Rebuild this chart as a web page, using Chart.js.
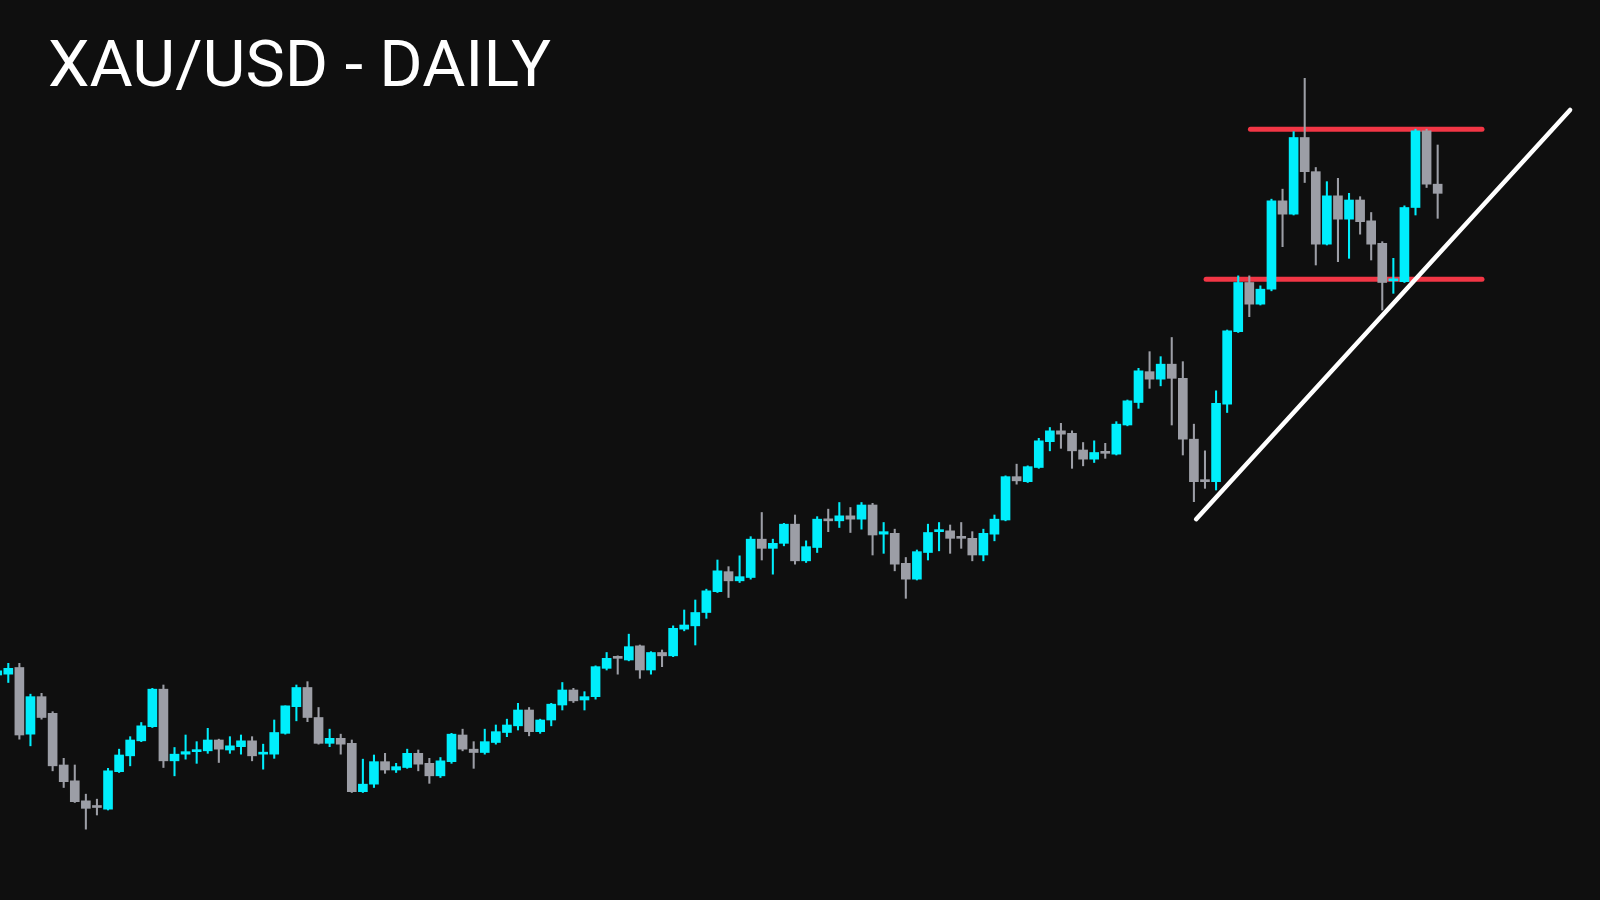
<!DOCTYPE html>
<html>
<head>
<meta charset="utf-8">
<title>XAU/USD - DAILY</title>
<script src="https://cdn.jsdelivr.net/npm/chart.js@4.4.1/dist/chart.umd.min.js"></script>
<style>
    html, body { margin: 0; padding: 0; background: #0f0f0f; }
    #wrap { position: relative; width: 1600px; height: 900px; overflow: hidden; }
    #title {
        position: absolute; left: 48px; top: 32px;
        font-family: Roboto, "Open Sans", sans-serif; font-size: 65px; line-height: 65px;
        font-weight: 400; color: #ffffff; white-space: nowrap;
        transform-origin: 0 0;
    }
    canvas { position: absolute; left: 0; top: 0; }
</style>
</head>
<body>
<div id="wrap">
    <canvas id="chart" width="1600" height="900"></canvas>
    <div id="title">XAU/USD - DAILY</div>
</div>
<script>
// daily candles, oldest first (x = bar index)
const opens = [
    2790, 2791, 2799, 2719, 2764, 2744, 2682, 2663, 2639, 2632,
    2629, 2674, 2693, 2711, 2728, 2773, 2687, 2695, 2698, 2699,
    2712, 2700, 2704, 2711, 2695, 2695, 2720, 2752, 2775, 2739,
    2708, 2714, 2708, 2650, 2659, 2686, 2676, 2679, 2696, 2684,
    2669, 2686, 2718, 2701, 2697, 2709, 2721, 2729, 2748, 2722,
    2736, 2754, 2772, 2760, 2764, 2798, 2812, 2808, 2825, 2796,
    2817, 2813, 2845, 2849, 2865, 2890, 2914, 2903, 2907, 2953,
    2942, 2948, 2971, 2927, 2943, 2977, 2975, 2981, 2977, 2994,
    2959, 2960, 2924, 2905, 2937, 2962, 2963, 2956, 2954, 2934,
    2959, 2976, 3028, 3022, 3039, 3070, 3083, 3080, 3060, 3049,
    3058, 3055, 3090, 3117, 3154, 3145, 3163, 3146, 3073, 3024,
    3022, 3115, 3202, 3261, 3235, 3253, 3359, 3343, 3435, 3394,
    3307, 3365, 3337, 3360, 3335, 3308, 3263, 3262, 3351, 3443,
    3379
];
const highs = [
    2798, 2804, 2804, 2767, 2768, 2746, 2690, 2682, 2647, 2641,
    2678, 2701, 2716, 2733, 2774, 2778, 2703, 2718, 2710, 2726,
    2713, 2716, 2718, 2716, 2707, 2736, 2753, 2778, 2782, 2751,
    2725, 2719, 2712, 2689, 2694, 2696, 2684, 2701, 2700, 2690,
    2691, 2720, 2725, 2710, 2725, 2730, 2737, 2756, 2751, 2737,
    2756, 2781, 2774, 2770, 2801, 2817, 2813, 2839, 2826, 2818,
    2820, 2849, 2868, 2880, 2893, 2928, 2920, 2933, 2956, 2985,
    2953, 2972, 2982, 2951, 2980, 2989, 2997, 2991, 2997, 2996,
    2973, 2965, 2931, 2940, 2971, 2973, 2970, 2973, 2962, 2965,
    2982, 3029, 3043, 3041, 3074, 3087, 3092, 3083, 3069, 3071,
    3068, 3094, 3120, 3158, 3178, 3172, 3195, 3166, 3091, 3059,
    3131, 3204, 3269, 3269, 3257, 3361, 3373, 3442, 3506, 3399,
    3382, 3386, 3368, 3364, 3345, 3310, 3290, 3353, 3445, 3445,
    3426
];
const lows = [
    2788, 2781, 2713, 2705, 2737, 2675, 2655, 2637, 2605, 2622,
    2628, 2673, 2681, 2710, 2727, 2679, 2669, 2689, 2684, 2696,
    2685, 2696, 2695, 2687, 2677, 2690, 2719, 2735, 2734, 2707,
    2704, 2695, 2649, 2649, 2655, 2672, 2673, 2678, 2675, 2660,
    2667, 2684, 2699, 2678, 2695, 2707, 2716, 2724, 2717, 2720,
    2729, 2748, 2757, 2748, 2761, 2796, 2791, 2807, 2786, 2791,
    2800, 2812, 2843, 2826, 2858, 2889, 2883, 2901, 2905, 2928,
    2911, 2945, 2923, 2925, 2937, 2962, 2967, 2961, 2965, 2934,
    2936, 2915, 2882, 2904, 2928, 2939, 2936, 2942, 2927, 2927,
    2951, 2975, 3019, 3021, 3038, 3059, 3062, 3038, 3041, 3045,
    3050, 3054, 3089, 3110, 3134, 3137, 3090, 3054, 2998, 3014,
    3012, 3105, 3201, 3220, 3234, 3251, 3304, 3342, 3381, 3282,
    3306, 3286, 3290, 3319, 3288, 3228, 3248, 3261, 3342, 3375,
    3338
];
const closes = [
    2795, 2798, 2718, 2764, 2739, 2681, 2662, 2638, 2630, 2631,
    2675, 2694, 2712, 2729, 2773, 2687, 2695, 2698, 2700, 2712,
    2701, 2705, 2711, 2693, 2697, 2721, 2753, 2775, 2739, 2708,
    2714, 2707, 2650, 2659, 2686, 2676, 2680, 2696, 2683, 2669,
    2687, 2719, 2701, 2697, 2710, 2722, 2730, 2748, 2722, 2736,
    2755, 2772, 2759, 2764, 2800, 2810, 2810, 2824, 2796, 2817,
    2813, 2846, 2850, 2865, 2891, 2915, 2903, 2908, 2953, 2942,
    2948, 2971, 2927, 2944, 2977, 2975, 2981, 2977, 2994, 2958,
    2962, 2923, 2905, 2938, 2961, 2964, 2954, 2954, 2934, 2960,
    2977, 3028, 3023, 3040, 3071, 3083, 3079, 3059, 3049, 3057,
    3056, 3091, 3119, 3155, 3145, 3163, 3146, 3073, 3022, 3022,
    3116, 3203, 3261, 3235, 3253, 3359, 3343, 3435, 3394, 3307,
    3365, 3337, 3360, 3334, 3307, 3261, 3264, 3351, 3443, 3379,
    3368
];

// drawn levels: range top / bottom and rising support
const resistanceLevel = 3445;
const resistanceSpan = [113.1, 134.0];
const supportLevel = 3265;
const supportSpan = [109.1, 134.0];
const trendFrom = [108.2, 2977];
const trendTo = [141.95, 3468];

const UP = '#00eefc';
const DOWN = '#9c9ea6';
const RED = '#f23645';

const colorFor = (i) => closes[i] >= opens[i] ? UP : DOWN;

const bodies = opens.map((o, i) => ({ x: i, y: [o, closes[i]] }));
const wicks = opens.map((o, i) => ({ x: i, y: [lows[i], highs[i]] }));
const candleColors = opens.map((o, i) => colorFor(i));

const chart = new Chart(document.getElementById('chart'), {
    data: {
        datasets: [
            {
                type: 'line',
                data: [{ x: trendFrom[0], y: trendFrom[1] }, { x: trendTo[0], y: trendTo[1] }],
                borderColor: '#ffffff',
                borderWidth: 4.5,
                borderCapStyle: 'round',
                pointRadius: 0,
                order: 0
            },
            {
                type: 'bar',
                data: bodies,
                backgroundColor: candleColors,
                borderWidth: 0,
                barThickness: 9,
                minBarLength: 2,
                grouped: false,
                order: 1
            },
            {
                type: 'bar',
                data: wicks,
                backgroundColor: candleColors,
                borderWidth: 0,
                barThickness: 1.4,
                grouped: false,
                order: 2
            },
            {
                type: 'line',
                data: [{ x: resistanceSpan[0], y: resistanceLevel }, { x: resistanceSpan[1], y: resistanceLevel }],
                borderColor: RED,
                borderWidth: 5,
                borderCapStyle: 'round',
                pointRadius: 0,
                order: 3
            },
            {
                type: 'line',
                data: [{ x: supportSpan[0], y: supportLevel }, { x: supportSpan[1], y: supportLevel }],
                borderColor: RED,
                borderWidth: 5,
                borderCapStyle: 'round',
                pointRadius: 0,
                order: 3
            }
        ]
    },
    options: {
        responsive: false,
        animation: false,
        layout: { padding: 0 },
        plugins: {
            legend: { display: false },
            tooltip: { enabled: false },
            title: { display: false }
        },
        scales: {
            x: { type: 'linear', min: 0.251, max: 144.65, offset: false, display: false },
            y: { type: 'linear', min: 2520, max: 3600, display: false }
        }
    }
});

// stretch the heading to the width it has in the picture (about 503px)
const title = document.getElementById('title');
const titleWidth = title.getBoundingClientRect().width;
if (titleWidth > 0) {
    title.style.transform = 'scaleX(' + (503 / titleWidth).toFixed(3) + ')';
}
</script>
</body>
</html>
